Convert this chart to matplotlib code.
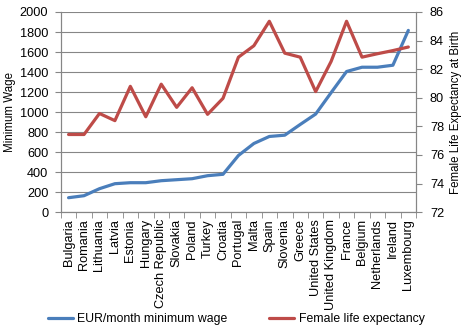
import matplotlib
matplotlib.use("Agg")
import matplotlib.pyplot as plt
import numpy as np

countries = ['Bulgaria', 'Romania', 'Lithuania', 'Latvia', 'Estonia', 'Hungary',
             'Czech Republic', 'Slovakia', 'Poland', 'Turkey', 'Croatia', 'Portugal',
             'Malta', 'Spain', 'Slovenia', 'Greece', 'United States', 'United Kingdom',
             'France', 'Belgium', 'Netherlands', 'Ireland', 'Luxembourg']
min_wage = [144, 164, 234, 284, 294, 294, 314, 324, 334, 364, 378, 566,
            686, 756, 769, 876, 980, 1194, 1405, 1448, 1448, 1468, 1816]
life_exp = [77.43, 77.43, 78.9, 78.4, 80.8, 78.67, 80.95, 79.33, 80.7, 78.84, 79.96, 82.84,
            83.64, 85.35, 83.12, 82.84, 80.43, 82.54, 85.35, 82.84, 83.08, 83.3, 83.55]

blue = '#4a7ebb'
red = '#be4b48'
grey = '#868686'

plt.rcParams['font.family'] = ['Liberation Sans', 'DejaVu Sans']
plt.rcParams['font.size'] = 9.2

fig = plt.figure(figsize=(4.68, 3.33), dpi=100)
ax1 = fig.add_axes([0.130, 0.363, 0.759, 0.601])
ax2 = ax1.twinx()

x = np.arange(len(countries))
l1, = ax1.plot(x, min_wage, color=blue, lw=2.3, solid_capstyle='round', zorder=3)
l2, = ax2.plot(x, life_exp, color=red, lw=2.3, solid_capstyle='round', zorder=3)

ax1.set_xlim(-0.5, len(countries) - 0.5)
ax1.set_ylim(0, 2000)
ax1.set_yticks(range(0, 2001, 200))
ax2.set_ylim(72, 86)
ax2.set_yticks(range(72, 87, 2))

ax1.set_xticks(x)
ax1.set_xticklabels(countries, rotation=90)
ax1.set_xticks(np.arange(-0.5, len(countries)), minor=True)
ax1.tick_params(axis='x', which='major', length=0, pad=5)
ax1.tick_params(axis='x', which='minor', length=4, color=grey)
ax1.tick_params(axis='y', length=4, color=grey, pad=5)
ax2.tick_params(axis='y', length=4, color=grey, pad=6)

ax1.grid(axis='y', color=grey, lw=0.8)
ax1.set_axisbelow(True)
for a in (ax1, ax2):
    a.spines['top'].set_visible(False)
    for s in ('left', 'right', 'bottom'):
        a.spines[s].set_color(grey)
        a.spines[s].set_linewidth(0.8)

ax1.set_ylabel('Minimum Wage', fontsize=8.3, labelpad=3)
ax2.set_ylabel('Female Life Expectancy at Birth', fontsize=8.3, labelpad=4)

fig.legend([l1, l2], ['EUR/month minimum wage', 'Female life expectancy'],
           loc='lower center', bbox_to_anchor=(0.505, -0.01), ncol=2, frameon=False,
           fontsize=8.8, handlelength=2.0, handletextpad=0.4, columnspacing=3.4)

fig.savefig('out.png', dpi=100)
